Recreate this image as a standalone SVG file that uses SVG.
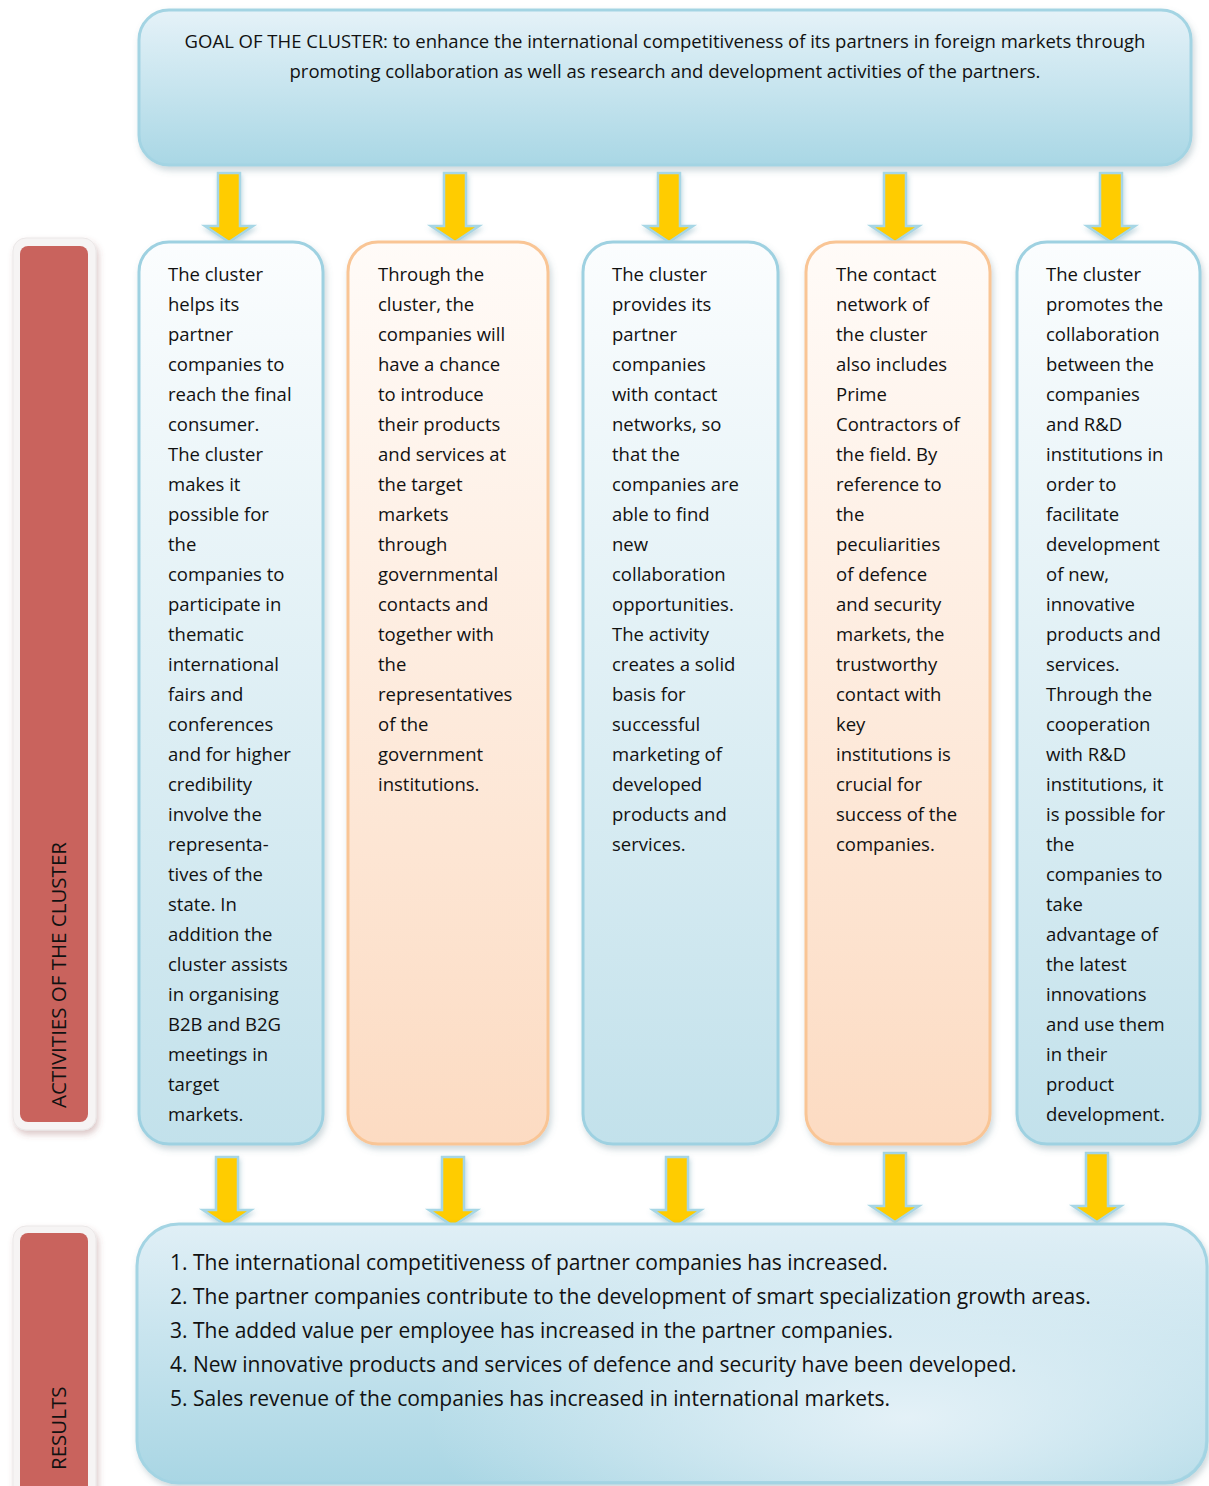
<svg xmlns="http://www.w3.org/2000/svg" width="1209" height="1486" viewBox="0 0 1209 1486">
<defs>
<linearGradient id="gGoal" x1="0" y1="0" x2="0" y2="1">
<stop offset="0" stop-color="#e5f2f8"/><stop offset="1" stop-color="#a9d7e5"/>
</linearGradient>
<linearGradient id="gBlue" x1="0" y1="0" x2="0" y2="1">
<stop offset="0" stop-color="#fbfdfe"/><stop offset="1" stop-color="#c2e1eb"/>
</linearGradient>
<linearGradient id="gOrange" x1="0" y1="0" x2="0" y2="1">
<stop offset="0" stop-color="#fffbf8"/><stop offset="1" stop-color="#fcdbc2"/>
</linearGradient>
<linearGradient id="gRes" x1="0" y1="0" x2="0" y2="1">
<stop offset="0" stop-color="#e0eff6"/><stop offset="1" stop-color="#a9d6e4"/>
</linearGradient>
<linearGradient id="gResTR" x1="0" y1="0" x2="1" y2="0">
<stop offset="0.6" stop-color="#a9d7e6" stop-opacity="0"/><stop offset="1" stop-color="#a9d7e6" stop-opacity="0.8"/>
</linearGradient>
<radialGradient id="gResHi" cx="0.72" cy="0.75" r="0.45" gradientTransform="translate(0.72 0.75) scale(1 1.6) translate(-0.72 -0.75)">
<stop offset="0" stop-color="#e6f2f8" stop-opacity="0.95"/><stop offset="1" stop-color="#e6f2f8" stop-opacity="0"/>
</radialGradient>
<filter id="sh" x="-10%" y="-10%" width="120%" height="120%">
<feDropShadow dx="2" dy="4" stdDeviation="3" flood-color="#5a7f8a" flood-opacity="0.3"/>
</filter>
<filter id="shA" x="-50%" y="-20%" width="200%" height="140%">
<feDropShadow dx="1" dy="3" stdDeviation="2.5" flood-color="#4d8fa3" flood-opacity="0.35"/>
</filter>
<filter id="shL" x="-20%" y="-5%" width="140%" height="110%">
<feDropShadow dx="2" dy="4" stdDeviation="3" flood-color="#8a4a4a" flood-opacity="0.3"/>
</filter>
<path id="arrow" d="M-11,0 H11 V53 H24 L0,69 L-24,53 H-11 Z"/>
</defs>
<style>
text { font-family: "Open Sans", "Liberation Sans", sans-serif; fill: #111; }
.col { font-size: 18.5px; }
.goal { font-size: 18.5px; text-anchor: middle; }
.res { font-size: 21px; }
.side { font-size: 20.5px; }
.blue { fill: url(#gBlue); stroke: #9ed1e1; stroke-width: 3; filter: url(#sh); }
.orange { fill: url(#gOrange); stroke: #f9c595; stroke-width: 3; filter: url(#sh); }
.arr { fill: #ffcc00; stroke: #a6d6e5; stroke-width: 2.5; filter: url(#shA); }
.frame { fill: #f6f4f4; stroke: #ebe7e7; stroke-width: 1; filter: url(#shL); }
.red { fill: #c9635d; }
</style>

<g id="goal">
<rect x="139" y="10" width="1052" height="155" rx="30" fill="url(#gGoal)" stroke="#a3d4e3" stroke-width="3" filter="url(#sh)"/>
<text class="goal" x="665" y="48">GOAL OF THE CLUSTER: to enhance the international competitiveness of its partners in foreign markets through</text>
<text class="goal" x="665" y="78">promoting collaboration as well as research and development activities of the partners.</text>
</g>

<g id="label-activities">
<rect class="frame" x="13" y="238" width="83" height="892" rx="13"/>
<rect class="red" x="20" y="246" width="68" height="876" rx="8"/>
<text class="side" transform="translate(66,1108) rotate(-90)">ACTIVITIES OF THE CLUSTER</text>
</g>

<g id="label-results">
<rect class="frame" x="13" y="1226" width="83" height="280" rx="13"/>
<rect class="red" x="20" y="1233" width="68" height="270" rx="8"/>
<text class="side" transform="translate(66,1470) rotate(-90)">RESULTS</text>
</g>

<g id="connectors">
<use href="#arrow" class="arr" x="229" y="173"/>
<use href="#arrow" class="arr" x="455" y="173"/>
<use href="#arrow" class="arr" x="669" y="173"/>
<use href="#arrow" class="arr" x="895" y="173"/>
<use href="#arrow" class="arr" x="1111" y="173"/>
<use href="#arrow" class="arr" x="227" y="1157"/>
<use href="#arrow" class="arr" x="453" y="1157"/>
<use href="#arrow" class="arr" x="677" y="1157"/>
<use href="#arrow" class="arr" x="895" y="1153"/>
<use href="#arrow" class="arr" x="1097" y="1153"/>
</g>

<g id="activity1">
<rect class="blue" x="139" y="242" width="184" height="902" rx="30"/>
<text class="col" y="281">
<tspan x="168">The cluster</tspan><tspan x="168" dy="30">helps its</tspan><tspan x="168" dy="30">partner</tspan><tspan x="168" dy="30">companies to</tspan><tspan x="168" dy="30">reach the final</tspan><tspan x="168" dy="30">consumer.</tspan><tspan x="168" dy="30">The cluster</tspan><tspan x="168" dy="30">makes it</tspan><tspan x="168" dy="30">possible for</tspan><tspan x="168" dy="30">the</tspan><tspan x="168" dy="30">companies to</tspan><tspan x="168" dy="30">participate in</tspan><tspan x="168" dy="30">thematic</tspan><tspan x="168" dy="30">international</tspan><tspan x="168" dy="30">fairs and</tspan><tspan x="168" dy="30">conferences</tspan><tspan x="168" dy="30">and for higher</tspan><tspan x="168" dy="30">credibility</tspan><tspan x="168" dy="30">involve the</tspan><tspan x="168" dy="30">representa-</tspan><tspan x="168" dy="30">tives of the</tspan><tspan x="168" dy="30">state. In</tspan><tspan x="168" dy="30">addition the</tspan><tspan x="168" dy="30">cluster assists</tspan><tspan x="168" dy="30">in organising</tspan><tspan x="168" dy="30">B2B and B2G</tspan><tspan x="168" dy="30">meetings in</tspan><tspan x="168" dy="30">target</tspan><tspan x="168" dy="30">markets.</tspan>
</text>
</g>

<g id="activity2">
<rect class="orange" x="348" y="242" width="200" height="902" rx="30"/>
<text class="col" y="281">
<tspan x="378">Through the</tspan><tspan x="378" dy="30">cluster, the</tspan><tspan x="378" dy="30">companies will</tspan><tspan x="378" dy="30">have a chance</tspan><tspan x="378" dy="30">to introduce</tspan><tspan x="378" dy="30">their products</tspan><tspan x="378" dy="30">and services at</tspan><tspan x="378" dy="30">the target</tspan><tspan x="378" dy="30">markets</tspan><tspan x="378" dy="30">through</tspan><tspan x="378" dy="30">governmental</tspan><tspan x="378" dy="30">contacts and</tspan><tspan x="378" dy="30">together with</tspan><tspan x="378" dy="30">the</tspan><tspan x="378" dy="30">representatives</tspan><tspan x="378" dy="30">of the</tspan><tspan x="378" dy="30">government</tspan><tspan x="378" dy="30">institutions.</tspan>
</text>
</g>

<g id="activity3">
<rect class="blue" x="583" y="242" width="195" height="902" rx="30"/>
<text class="col" y="281">
<tspan x="612">The cluster</tspan><tspan x="612" dy="30">provides its</tspan><tspan x="612" dy="30">partner</tspan><tspan x="612" dy="30">companies</tspan><tspan x="612" dy="30">with contact</tspan><tspan x="612" dy="30">networks, so</tspan><tspan x="612" dy="30">that the</tspan><tspan x="612" dy="30">companies are</tspan><tspan x="612" dy="30">able to find</tspan><tspan x="612" dy="30">new</tspan><tspan x="612" dy="30">collaboration</tspan><tspan x="612" dy="30">opportunities.</tspan><tspan x="612" dy="30">The activity</tspan><tspan x="612" dy="30">creates a solid</tspan><tspan x="612" dy="30">basis for</tspan><tspan x="612" dy="30">successful</tspan><tspan x="612" dy="30">marketing of</tspan><tspan x="612" dy="30">developed</tspan><tspan x="612" dy="30">products and</tspan><tspan x="612" dy="30">services.</tspan>
</text>
</g>

<g id="activity4">
<rect class="orange" x="806" y="242" width="184" height="902" rx="30"/>
<text class="col" y="281">
<tspan x="836">The contact</tspan><tspan x="836" dy="30">network of</tspan><tspan x="836" dy="30">the cluster</tspan><tspan x="836" dy="30">also includes</tspan><tspan x="836" dy="30">Prime</tspan><tspan x="836" dy="30">Contractors of</tspan><tspan x="836" dy="30">the field. By</tspan><tspan x="836" dy="30">reference to</tspan><tspan x="836" dy="30">the</tspan><tspan x="836" dy="30">peculiarities</tspan><tspan x="836" dy="30">of defence</tspan><tspan x="836" dy="30">and security</tspan><tspan x="836" dy="30">markets, the</tspan><tspan x="836" dy="30">trustworthy</tspan><tspan x="836" dy="30">contact with</tspan><tspan x="836" dy="30">key</tspan><tspan x="836" dy="30">institutions is</tspan><tspan x="836" dy="30">crucial for</tspan><tspan x="836" dy="30">success of the</tspan><tspan x="836" dy="30">companies.</tspan>
</text>
</g>

<g id="activity5">
<rect class="blue" x="1017" y="242" width="183" height="902" rx="30"/>
<text class="col" y="281">
<tspan x="1046">The cluster</tspan><tspan x="1046" dy="30">promotes the</tspan><tspan x="1046" dy="30">collaboration</tspan><tspan x="1046" dy="30">between the</tspan><tspan x="1046" dy="30">companies</tspan><tspan x="1046" dy="30">and R&amp;D</tspan><tspan x="1046" dy="30">institutions in</tspan><tspan x="1046" dy="30">order to</tspan><tspan x="1046" dy="30">facilitate</tspan><tspan x="1046" dy="30">development</tspan><tspan x="1046" dy="30">of new,</tspan><tspan x="1046" dy="30">innovative</tspan><tspan x="1046" dy="30">products and</tspan><tspan x="1046" dy="30">services.</tspan><tspan x="1046" dy="30">Through the</tspan><tspan x="1046" dy="30">cooperation</tspan><tspan x="1046" dy="30">with R&amp;D</tspan><tspan x="1046" dy="30">institutions, it</tspan><tspan x="1046" dy="30">is possible for</tspan><tspan x="1046" dy="30">the</tspan><tspan x="1046" dy="30">companies to</tspan><tspan x="1046" dy="30">take</tspan><tspan x="1046" dy="30">advantage of</tspan><tspan x="1046" dy="30">the latest</tspan><tspan x="1046" dy="30">innovations</tspan><tspan x="1046" dy="30">and use them</tspan><tspan x="1046" dy="30">in their</tspan><tspan x="1046" dy="30">product</tspan><tspan x="1046" dy="30">development.</tspan>
</text>
</g>

<g id="results">
<rect x="137" y="1224" width="1070" height="259" rx="42" fill="url(#gRes)" stroke="#a3d4e3" stroke-width="3" filter="url(#sh)"/>
<rect x="139" y="1226" width="1066" height="255" rx="40" fill="url(#gResHi)"/>
<text class="res" y="1270">
<tspan x="170">1. The international competitiveness of partner companies has increased.</tspan>
<tspan x="170" dy="34">2. The partner companies contribute to the development of smart specialization growth areas.</tspan>
<tspan x="170" dy="34">3. The added value per employee has increased in the partner companies.</tspan>
<tspan x="170" dy="34">4. New innovative products and services of defence and security have been developed.</tspan>
<tspan x="170" dy="34">5. Sales revenue of the companies has increased in international markets.</tspan>
</text>
</g>
</svg>
